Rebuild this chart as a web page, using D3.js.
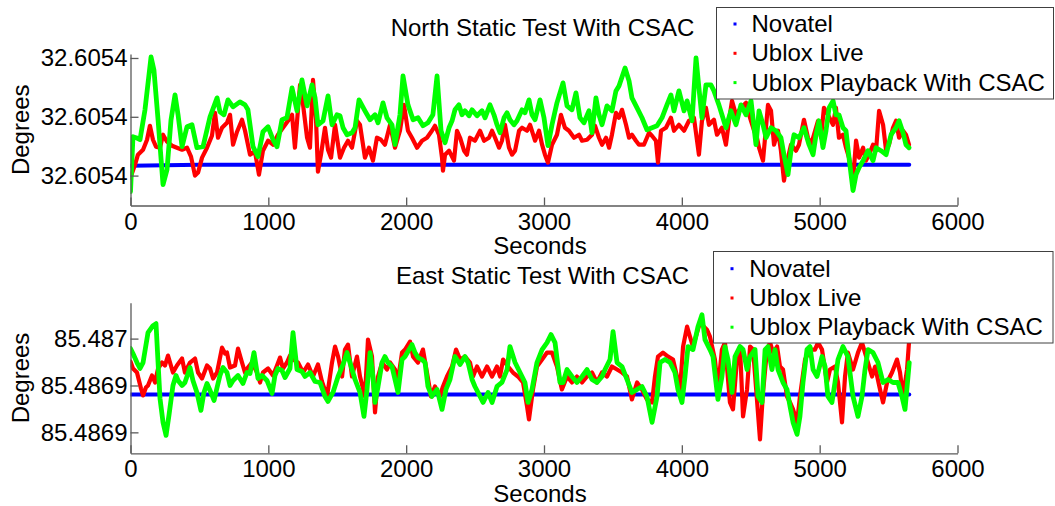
<!DOCTYPE html>
<html><head><meta charset="utf-8">
<script src="https://cdn.jsdelivr.net/npm/d3@7"></script>
<style>body{margin:0;background:#fff;}svg{display:block;}</style>
</head><body><svg id="c" width="1055" height="506"></svg>
<script>
// ---------- DATA ----------
const xTicks = [0, 1000, 2000, 3000, 4000, 5000, 6000];
const northTicks = [32.6054000, 32.6054059, 32.6054118];
const eastTicks = [85.4869410, 85.4869457, 85.4869504];
const seriesNames = ["Novatel", "Ublox Live", "Ublox Playback With CSAC"];

const northNovatelSec = [0,500,1000,1500,2000,2500,3000,3500,4000,4500,5000,5650];
const northNovatel = [32.6054010,32.6054011,32.6054011,32.6054011,32.6054011,32.6054011,32.6054011,32.6054011,32.6054011,32.6054011,32.6054011,32.6054011];

const northLiveSec = [0,33,54,91,120,141,163,185,214,236,
265,301,337,374,410,439,468,490,519,555,
591,613,635,664,700,722,744,773,809,831,
867,903,932,961,998,1034,1070,1106,1143,1172,
1193,1215,1230,1252,1281,1302,1324,1346,1360,1382,
1411,1433,1455,1484,1520,1549,1578,1607,1643,1665,
1701,1730,1759,1788,1817,1846,1883,1919,1955,1984,
2013,2042,2079,2115,2151,2187,2209,2238,2260,2267,
2282,2311,2347,2369,2391,2420,2441,2463,2499,2536,
2565,2601,2623,2645,2674,2695,2717,2746,2768,2790,
2819,2841,2877,2899,2935,2964,2986,3007,3029,3058,
3094,3123,3152,3181,3218,3254,3276,3312,3348,3370,
3399,3421,3450,3472,3493,3522,3544,3566,3595,3617,
3638,3667,3689,3725,3762,3783,3812,3827,3849,3885,
3921,3943,3979,4016,4052,4088,4124,4146,4175,4197,
4233,4255,4291,4320,4342,4364,4393,4429,4466,4488,
4524,4545,4560,4589,4625,4647,4669,4698,4719,4741,
4770,4792,4828,4850,4886,4915,4937,4959,4988,5010,
5031,5060,5097,5118,5140,5169,5191,5213,5242,5264,
5286,5315,5336,5358,5387,5409,5431,5460,5482,5503,
5532,5554,5576,5605,5626,5648];
const northLive = [32.6053998,32.6054011,32.6054021,32.6054026,32.6054036,32.6054050,32.6054036,32.6054029,32.6054028,32.6054041,
32.6054034,32.6054030,32.6054028,32.6054026,32.6054028,32.6054019,32.6054000,32.6054003,32.6054018,32.6054028,
32.6054040,32.6054063,32.6054038,32.6054048,32.6054053,32.6054061,32.6054031,32.6054044,32.6054056,32.6054045,
32.6054021,32.6054024,32.6054001,32.6054025,32.6054035,32.6054031,32.6054041,32.6054048,32.6054055,32.6054061,
32.6054028,32.6054066,32.6054091,32.6054071,32.6054038,32.6054028,32.6054096,32.6054056,32.6054004,32.6054021,
32.6054048,32.6054026,32.6054018,32.6054051,32.6054018,32.6054028,32.6054035,32.6054028,32.6054055,32.6054051,
32.6054018,32.6054028,32.6054015,32.6054038,32.6054036,32.6054031,32.6054051,32.6054028,32.6054045,32.6054071,
32.6054045,32.6054038,32.6054028,32.6054035,32.6054038,32.6054045,32.6054050,32.6054041,32.6054018,32.6054005,
32.6054021,32.6054025,32.6054015,32.6054045,32.6054038,32.6054025,32.6054021,32.6054038,32.6054035,32.6054045,
32.6054035,32.6054038,32.6054045,32.6054038,32.6054028,32.6054035,32.6054051,32.6054028,32.6054021,32.6054025,
32.6054045,32.6054048,32.6054045,32.6054051,32.6054035,32.6054045,32.6054031,32.6054021,32.6054013,32.6054031,
32.6054041,32.6054061,32.6054048,32.6054045,32.6054038,32.6054041,32.6054035,32.6054036,32.6054041,32.6054050,
32.6054038,32.6054031,32.6054038,32.6054028,32.6054041,32.6054063,32.6054058,32.6054066,32.6054051,32.6054038,
32.6054041,32.6054035,32.6054031,32.6054031,32.6054043,32.6054040,32.6054035,32.6054013,32.6054045,32.6054048,
32.6054058,32.6054045,32.6054051,32.6054045,32.6054055,32.6054058,32.6054021,32.6054055,32.6054068,32.6054051,
32.6054056,32.6054041,32.6054048,32.6054031,32.6054055,32.6054075,32.6054061,32.6054068,32.6054073,32.6054061,
32.6054045,32.6054038,32.6054028,32.6054015,32.6054071,32.6054065,32.6054031,32.6054045,32.6054025,32.6053995,
32.6054018,32.6054031,32.6054025,32.6054031,32.6054056,32.6054038,32.6054031,32.6054041,32.6054055,32.6054038,
32.6054068,32.6054061,32.6054051,32.6054068,32.6054038,32.6054041,32.6054028,32.6054018,32.6053995,32.6054035,
32.6054018,32.6054028,32.6054015,32.6054021,32.6054031,32.6054025,32.6054065,32.6054051,32.6054025,32.6054031,
32.6054048,32.6054055,32.6054038,32.6054045,32.6054041,32.6054031];

const northPlaybackSec = [0,18,40,69,105,149,170,200,236,265,
294,323,345,374,410,446,482,526,577,628,
649,678,707,744,794,831,852,889,925,961,
998,1034,1063,1099,1135,1172,1208,1244,1281,1317,
1339,1360,1397,1433,1462,1498,1520,1542,1571,1607,
1629,1658,1701,1738,1774,1796,1832,1861,1897,1919,
1955,1977,2013,2050,2086,2122,2158,2194,2224,2253,
2282,2311,2333,2354,2383,2405,2427,2456,2478,2514,
2550,2572,2608,2637,2659,2681,2710,2732,2753,2782,
2804,2841,2862,2891,2913,2935,2971,3000,3029,3058,
3094,3138,3167,3203,3232,3261,3290,3326,3348,3377,
3399,3421,3457,3493,3522,3544,3588,3617,3638,3675,
3711,3747,3784,3820,3856,3892,3921,3943,3979,4016,
4038,4074,4103,4124,4146,4175,4211,4233,4269,4320,
4356,4393,4429,4466,4502,4538,4560,4589,4611,4647,
4683,4719,4741,4770,4792,4814,4850,4886,4923,4952,
4974,4995,5024,5046,5068,5097,5118,5140,5169,5191,
5213,5242,5264,5286,5315,5351,5387,5409,5445,5482,
5518,5554,5576,5605,5626,5648];
const northPlayback = [32.6053984,32.6054039,32.6054038,32.6054036,32.6054066,32.6054119,32.6054106,32.6054056,32.6053991,32.6054006,
32.6054056,32.6054081,32.6054061,32.6054029,32.6054049,32.6054051,32.6054028,32.6054029,32.6054059,32.6054078,
32.6054064,32.6054061,32.6054076,32.6054069,32.6054074,32.6054071,32.6054066,32.6054029,32.6054019,32.6054044,
32.6054049,32.6054036,32.6054029,32.6054056,32.6054058,32.6054088,32.6054065,32.6054096,32.6054070,32.6054091,
32.6054078,32.6054051,32.6054055,32.6054080,32.6054051,32.6054061,32.6054060,32.6054048,32.6054041,32.6054043,
32.6054048,32.6054076,32.6054065,32.6054056,32.6054061,32.6054053,32.6054073,32.6054058,32.6054051,32.6054031,
32.6054061,32.6054100,32.6054071,32.6054056,32.6054058,32.6054050,32.6054053,32.6054061,32.6054100,32.6054045,
32.6054033,32.6054048,32.6054055,32.6054066,32.6054071,32.6054061,32.6054065,32.6054060,32.6054066,32.6054060,
32.6054065,32.6054058,32.6054071,32.6054061,32.6054051,32.6054043,32.6054058,32.6054063,32.6054056,32.6054051,
32.6054055,32.6054066,32.6054063,32.6054076,32.6054061,32.6054056,32.6054076,32.6054058,32.6054030,32.6054051,
32.6054073,32.6054093,32.6054070,32.6054066,32.6054083,32.6054058,32.6054053,32.6054065,32.6054043,32.6054078,
32.6054061,32.6054051,32.6054070,32.6054065,32.6054085,32.6054090,32.6054108,32.6054095,32.6054078,32.6054068,
32.6054058,32.6054046,32.6054048,32.6054050,32.6054058,32.6054071,32.6054081,32.6054065,32.6054085,32.6054065,
32.6054075,32.6054055,32.6054118,32.6054088,32.6054058,32.6054091,32.6054091,32.6054085,32.6054071,32.6054048,
32.6054065,32.6054051,32.6054071,32.6054061,32.6054075,32.6054031,32.6054065,32.6054051,32.6054038,32.6054048,
32.6054045,32.6054038,32.6054021,32.6054001,32.6054025,32.6054041,32.6054038,32.6054048,32.6054031,32.6054021,
32.6054041,32.6054055,32.6054028,32.6054045,32.6054068,32.6054075,32.6054061,32.6054061,32.6054048,32.6054045,
32.6054018,32.6053985,32.6054001,32.6054008,32.6054015,32.6054025,32.6054015,32.6054028,32.6054025,32.6054021,
32.6054041,32.6054048,32.6054055,32.6054043,32.6054031,32.6054028];

const eastNovatelSec = [0,1000,2000,3000,4000,5000,5650];
const eastNovatel = [85.4869448,85.4869448,85.4869448,85.4869448,85.4869448,85.4869448,85.4869448];

const eastLiveSec = [0,18,47,76,91,112,127,156,178,200,
229,250,272,308,337,374,395,432,468,490,
519,555,577,599,628,664,686,700,722,758,
780,809,831,852,881,918,940,961,998,1034,
1063,1085,1106,1135,1157,1179,1215,1252,1288,1324,
1360,1389,1426,1462,1484,1506,1535,1556,1578,1607,
1643,1665,1701,1723,1752,1774,1796,1825,1861,1883,
1919,1941,1970,1992,2028,2050,2086,2122,2151,2180,
2209,2245,2267,2296,2333,2362,2391,2427,2463,2485,
2514,2550,2587,2623,2659,2681,2703,2739,2775,2811,
2848,2877,2891,2920,2949,2986,3022,3058,3094,3130,
3167,3203,3239,3276,3312,3348,3384,3421,3457,3493,
3530,3566,3602,3638,3675,3711,3747,3784,3805,3827,
3863,3900,3936,3965,3987,4009,4038,4059,4081,4110,
4132,4182,4204,4240,4262,4291,4313,4349,4371,4400,
4422,4444,4473,4495,4517,4545,4567,4589,4618,4640,
4662,4691,4712,4734,4763,4785,4807,4836,4857,4894,
4930,4966,4988,5017,5053,5075,5111,5133,5162,5184,
5205,5242,5278,5307,5344,5380,5402,5438,5460,5489,
5525,5561,5583,5605,5634,5648];
const eastLive = [85.4869481,85.4869474,85.4869470,85.4869454,85.4869447,85.4869455,85.4869457,85.4869467,85.4869460,85.4869474,
85.4869480,85.4869477,85.4869487,85.4869470,85.4869477,85.4869484,85.4869470,85.4869480,85.4869484,85.4869470,
85.4869464,85.4869477,85.4869474,85.4869464,85.4869470,85.4869495,85.4869489,85.4869490,85.4869475,85.4869477,
85.4869494,85.4869480,85.4869470,85.4869475,85.4869480,85.4869470,85.4869460,85.4869470,85.4869474,85.4869467,
85.4869477,85.4869485,85.4869474,85.4869480,85.4869487,85.4869483,85.4869480,85.4869470,85.4869478,85.4869466,
85.4869478,85.4869461,85.4869446,85.4869480,85.4869496,85.4869486,85.4869466,85.4869493,85.4869498,85.4869466,
85.4869486,85.4869466,85.4869446,85.4869503,85.4869486,85.4869430,85.4869466,85.4869480,85.4869473,85.4869480,
85.4869473,85.4869463,85.4869490,85.4869493,85.4869501,85.4869486,85.4869480,85.4869493,85.4869470,85.4869446,
85.4869456,85.4869446,85.4869456,85.4869466,85.4869476,85.4869493,85.4869483,85.4869486,85.4869480,85.4869466,
85.4869476,85.4869466,85.4869476,85.4869466,85.4869476,85.4869466,85.4869483,85.4869476,85.4869470,85.4869466,
85.4869460,85.4869436,85.4869423,85.4869453,85.4869476,85.4869483,85.4869490,85.4869490,85.4869476,85.4869453,
85.4869466,85.4869460,85.4869466,85.4869460,85.4869466,85.4869470,85.4869460,85.4869470,85.4869466,85.4869476,
85.4869473,85.4869470,85.4869466,85.4869443,85.4869460,85.4869453,85.4869443,85.4869440,85.4869466,85.4869486,
85.4869490,85.4869486,85.4869483,85.4869466,85.4869453,85.4869496,85.4869516,85.4869506,85.4869496,85.4869510,
85.4869520,85.4869513,85.4869506,85.4869483,85.4869453,85.4869493,85.4869500,85.4869440,85.4869433,85.4869483,
85.4869496,85.4869426,85.4869453,85.4869496,85.4869493,85.4869443,85.4869403,85.4869450,85.4869493,85.4869500,
85.4869490,85.4869496,85.4869476,85.4869473,85.4869446,85.4869440,85.4869433,85.4869420,85.4869446,85.4869483,
85.4869493,85.4869493,85.4869500,85.4869493,85.4869460,85.4869473,85.4869476,85.4869460,85.4869420,85.4869466,
85.4869490,85.4869473,85.4869490,85.4869500,85.4869483,85.4869466,85.4869476,85.4869453,85.4869440,85.4869460,
85.4869470,85.4869483,85.4869470,85.4869446,85.4869473,85.4869500];

const eastPlaybackSec = [0,18,47,69,91,127,163,185,200,214,
236,258,279,308,330,345,374,395,432,453,
482,511,533,555,577,606,628,649,671,700,
722,744,780,816,845,867,896,925,954,990,
1027,1048,1070,1099,1121,1157,1179,1208,1244,1266,
1302,1339,1375,1411,1433,1469,1506,1542,1571,1592,
1629,1665,1694,1716,1738,1759,1774,1796,1825,1846,
1868,1897,1919,1941,1970,1992,2013,2042,2064,2086,
2115,2137,2158,2187,2224,2260,2289,2318,2354,2391,
2427,2449,2478,2499,2536,2558,2594,2623,2659,2695,
2732,2753,2790,2826,2862,2884,2913,2949,2986,3022,
3051,3080,3116,3138,3167,3203,3239,3276,3312,3348,
3384,3421,3443,3479,3501,3530,3566,3602,3638,3675,
3711,3747,3784,3820,3842,3878,3914,3950,3972,4001,
4023,4045,4081,4117,4146,4168,4204,4226,4262,4291,
4313,4335,4364,4386,4422,4444,4473,4495,4531,4553,
4582,4604,4625,4654,4676,4698,4734,4763,4785,4807,
4836,4857,4879,4908,4930,4952,4981,5017,5039,5060,
5089,5111,5133,5169,5205,5242,5278,5307,5329,5351,
5387,5423,5460,5496,5532,5568,5597,5619,5641,5650];
const eastPlayback = [85.4869494,85.4869489,85.4869480,85.4869474,85.4869480,85.4869510,85.4869517,85.4869519,85.4869480,85.4869444,
85.4869420,85.4869407,85.4869427,85.4869457,85.4869467,85.4869462,85.4869457,85.4869460,85.4869475,85.4869462,
85.4869450,85.4869432,85.4869450,85.4869459,85.4869452,85.4869442,85.4869455,85.4869467,85.4869475,85.4869470,
85.4869457,85.4869462,85.4869467,85.4869459,85.4869470,85.4869469,85.4869490,85.4869464,85.4869467,85.4869462,
85.4869449,85.4869467,85.4869474,85.4869472,85.4869465,85.4869474,85.4869510,85.4869473,85.4869471,85.4869466,
85.4869470,85.4869461,85.4869460,85.4869446,85.4869441,85.4869450,85.4869466,85.4869478,85.4869490,85.4869480,
85.4869463,85.4869450,85.4869426,85.4869453,85.4869490,85.4869466,85.4869440,85.4869456,85.4869480,85.4869486,
85.4869480,85.4869476,85.4869463,85.4869450,85.4869483,85.4869486,85.4869491,85.4869498,85.4869490,85.4869485,
85.4869483,85.4869480,85.4869456,85.4869446,85.4869453,85.4869433,85.4869453,85.4869463,85.4869486,85.4869478,
85.4869486,85.4869480,85.4869463,85.4869456,85.4869446,85.4869440,85.4869450,85.4869440,85.4869456,85.4869460,
85.4869473,85.4869496,85.4869480,85.4869470,85.4869460,85.4869440,85.4869453,85.4869480,85.4869493,85.4869500,
85.4869508,85.4869500,85.4869460,85.4869460,85.4869473,85.4869466,85.4869460,85.4869466,85.4869473,85.4869463,
85.4869460,85.4869466,85.4869473,85.4869483,85.4869511,85.4869480,85.4869476,85.4869463,85.4869450,85.4869453,
85.4869456,85.4869446,85.4869420,85.4869446,85.4869480,85.4869483,85.4869480,85.4869470,85.4869453,85.4869440,
85.4869466,85.4869496,85.4869493,85.4869516,85.4869528,85.4869503,85.4869493,85.4869486,85.4869443,85.4869466,
85.4869496,85.4869483,85.4869450,85.4869486,85.4869496,85.4869493,85.4869473,85.4869486,85.4869493,85.4869446,
85.4869440,85.4869493,85.4869496,85.4869473,85.4869493,85.4869473,85.4869460,85.4869453,85.4869436,85.4869420,
85.4869408,85.4869426,85.4869460,85.4869493,85.4869496,85.4869473,85.4869466,85.4869486,85.4869476,85.4869446,
85.4869440,85.4869460,85.4869483,85.4869496,85.4869486,85.4869446,85.4869426,85.4869446,85.4869473,85.4869493,
85.4869490,85.4869480,85.4869460,85.4869463,85.4869460,85.4869460,85.4869446,85.4869433,85.4869466,85.4869480];

// ---------- DRAWING ----------
const FONT = "Arial, 'Liberation Sans', Helvetica, sans-serif";
const colors = ["#0000ff", "#ff0000", "#00ff00"];
const zip = (a, b) => a.slice(0, Math.min(a.length, b.length)).map((t, i) => [t, b[i]]);

const panels = [
  { title: "North Static Test With CSAC", yDomain: [32.6053970, 32.6054122], yRange: [205.5, 54],
    ticks: northTicks, titleY: 36, xlabY: 254, xPad: 7,
    series: [zip(northNovatelSec, northNovatel), zip(northLiveSec, northLive), zip(northPlaybackSec, northPlayback)],
    legend: { x: 716.5, y: 7.5, w: 337, h: 91.5, dotX: 735, textX: 751.5, base: [32, 61.3, 90.6] } },
  { title: "East Static Test With CSAC", yDomain: [85.4869389, 85.4869540], yRange: [453.3, 302.7],
    ticks: eastTicks, titleY: 284, xlabY: 502, xPad: 7,
    series: [zip(eastNovatelSec, eastNovatel), zip(eastLiveSec, eastLive), zip(eastPlaybackSec, eastPlayback)],
    legend: { x: 713.5, y: 251.5, w: 339.5, h: 91.5, dotX: 732, textX: 749.3, base: [276.7, 306, 335.2] } }
];

const svg = d3.select("#c");
svg.append("rect").attr("width", 1055).attr("height", 506).attr("fill", "#fff");

panels.forEach((p, pi) => {
  const x = d3.scaleLinear().domain([0, 6000]).range([130.5, 957.5]);
  const y = d3.scaleLinear().domain(p.yDomain).range(p.yRange);
  const g = svg.append("g");

  const clipId = "clip" + pi;
  svg.append("clipPath").attr("id", clipId).append("rect")
    .attr("x", 130.5).attr("y", p.yRange[1]).attr("width", 827).attr("height", p.yRange[0] - p.yRange[1]);

  const line = d3.line().x(d => x(d[0])).y(d => y(d[1]));
  const dataG = g.append("g").attr("clip-path", `url(#${clipId})`);
  p.series.forEach((s, i) => {
    dataG.append("path").datum(s).attr("d", line)
      .attr("fill", "none").attr("stroke", colors[i])
      .attr("stroke-width", i === 0 ? 4 : (i === 1 ? 4.2 : 4.8))
      .attr("stroke-linejoin", "round").attr("stroke-linecap", "round");
  });

  const xa = g.append("g").attr("transform", `translate(0,${p.yRange[0]})`)
    .call(d3.axisBottom(x).tickValues(xTicks).tickFormat(d3.format("d"))
      .tickSizeInner(-8).tickSizeOuter(0).tickPadding(p.xPad));
  const ya = g.append("g").attr("transform", `translate(130.5,0)`)
    .call(d3.axisLeft(y).tickValues(p.ticks).tickFormat(d3.format(".4~f"))
      .tickSizeInner(-8).tickSizeOuter(0).tickPadding(3));
  [xa, ya].forEach(a => {
    a.attr("font-family", FONT).attr("font-size", 24);
    a.selectAll(".domain, .tick line").attr("stroke", "#5a5a5a").attr("stroke-width", 1.3);
    a.selectAll("text").attr("fill", "#000");
  });

  g.append("text").attr("x", 542.5).attr("y", p.titleY).attr("text-anchor", "middle")
    .attr("font-family", FONT).attr("font-size", 24).text(p.title);
  g.append("text").attr("x", 540).attr("y", p.xlabY).attr("text-anchor", "middle")
    .attr("font-family", FONT).attr("font-size", 24).text("Seconds");
  const cy = (p.yRange[0] + p.yRange[1]) / 2;
  g.append("text").attr("transform", `translate(29,${cy}) rotate(-90)`).attr("text-anchor", "middle")
    .attr("font-family", FONT).attr("font-size", 24).text("Degrees");

  const L = p.legend;
  const lg = g.append("g");
  lg.append("rect").attr("x", L.x).attr("y", L.y).attr("width", L.w).attr("height", L.h)
    .attr("fill", "#fff").attr("stroke", "#404040").attr("stroke-width", 1);
  seriesNames.forEach((n, i) => {
    lg.append("rect").attr("x", L.dotX - 1.5).attr("y", L.base[i] - 9.5).attr("width", 3).attr("height", 3)
      .attr("fill", colors[i]);
    lg.append("text").attr("x", L.textX).attr("y", L.base[i]).attr("font-family", FONT)
      .attr("font-size", 24).attr("fill", "#000").text(n);
  });
});
</script>
</body></html>
